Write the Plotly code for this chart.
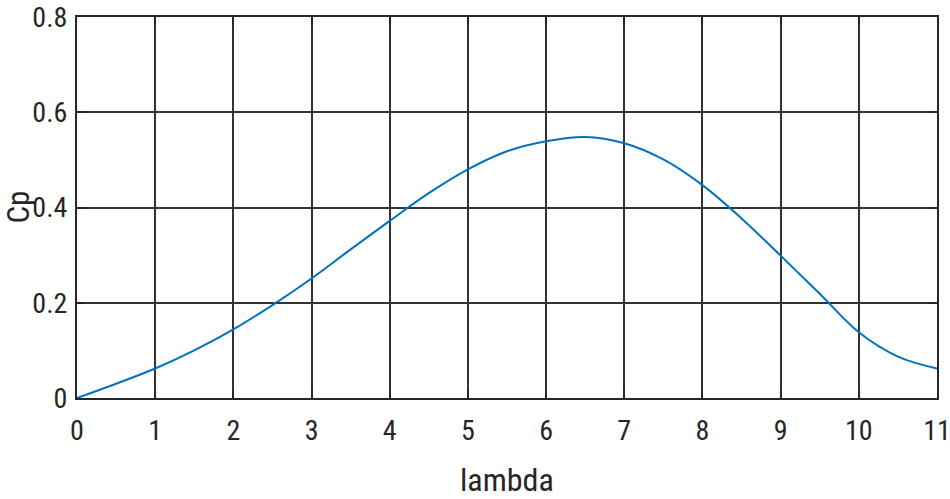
import plotly.graph_objects as go

lam = [0, 0.5, 1, 1.5, 2, 2.5, 3, 3.5, 4, 4.5, 5, 5.5, 6, 6.5, 7, 7.5, 8, 8.5, 9, 9.5, 10, 10.5, 11]
cp = [0.0, 0.030, 0.062, 0.100, 0.144, 0.195, 0.251, 0.312, 0.372, 0.430, 0.480, 0.518, 0.539, 0.548, 0.535, 0.501, 0.447, 0.377, 0.299, 0.219, 0.138, 0.087, 0.062]

x_ticks = list(range(0, 12))
y_ticks = [0, 0.2, 0.4, 0.6, 0.8]
y_ticklabels = ["0", "0.2", "0.4", "0.6", "0.8"]

FONT = "Roboto Condensed, Liberation Sans Narrow, Arial Narrow, DejaVu Sans Condensed, sans-serif"
TXT = "#262626"

fig = go.Figure()
fig.add_trace(go.Scatter(x=lam, y=cp, mode="lines",
                         line=dict(color="#0072BD", width=2, shape="spline", smoothing=1.0),
                         showlegend=False, cliponaxis=False))

axis_common = dict(showline=True, linecolor=TXT, linewidth=2, mirror="ticks",
                   ticks="inside", ticklen=8, tickwidth=2, tickcolor=TXT,
                   showgrid=True, gridcolor="#333333", gridwidth=1.5, zeroline=False,
                   automargin=False, ticklabeloverflow="allow",
                   tickfont=dict(family=FONT, size=28, color=TXT))

fig.update_xaxes(range=[0, 11], tickvals=x_ticks, ticklabelstandoff=6, **axis_common)
fig.update_yaxes(range=[0, 0.8], tickvals=y_ticks, ticktext=y_ticklabels, ticklabelstandoff=2,
                 **axis_common)

fig.add_annotation(text="lambda", xref="paper", yref="paper", x=0.5, y=0,
                   xanchor="center", yanchor="middle", yshift=-82, showarrow=False,
                   font=dict(family=FONT, size=32, color=TXT))
fig.add_annotation(text="Cp", xref="paper", yref="paper", x=0, y=0.5,
                   xanchor="center", yanchor="middle", xshift=-59, textangle=-90, showarrow=False,
                   font=dict(family=FONT, size=31, color=TXT))

fig.update_layout(width=950, height=499, margin=dict(l=77, r=13, t=17, b=101),
                  plot_bgcolor="white", paper_bgcolor="white")

fig.write_html("out.html", config={"displayModeBar": False},
               post_script="document.body.style.margin='0';")
